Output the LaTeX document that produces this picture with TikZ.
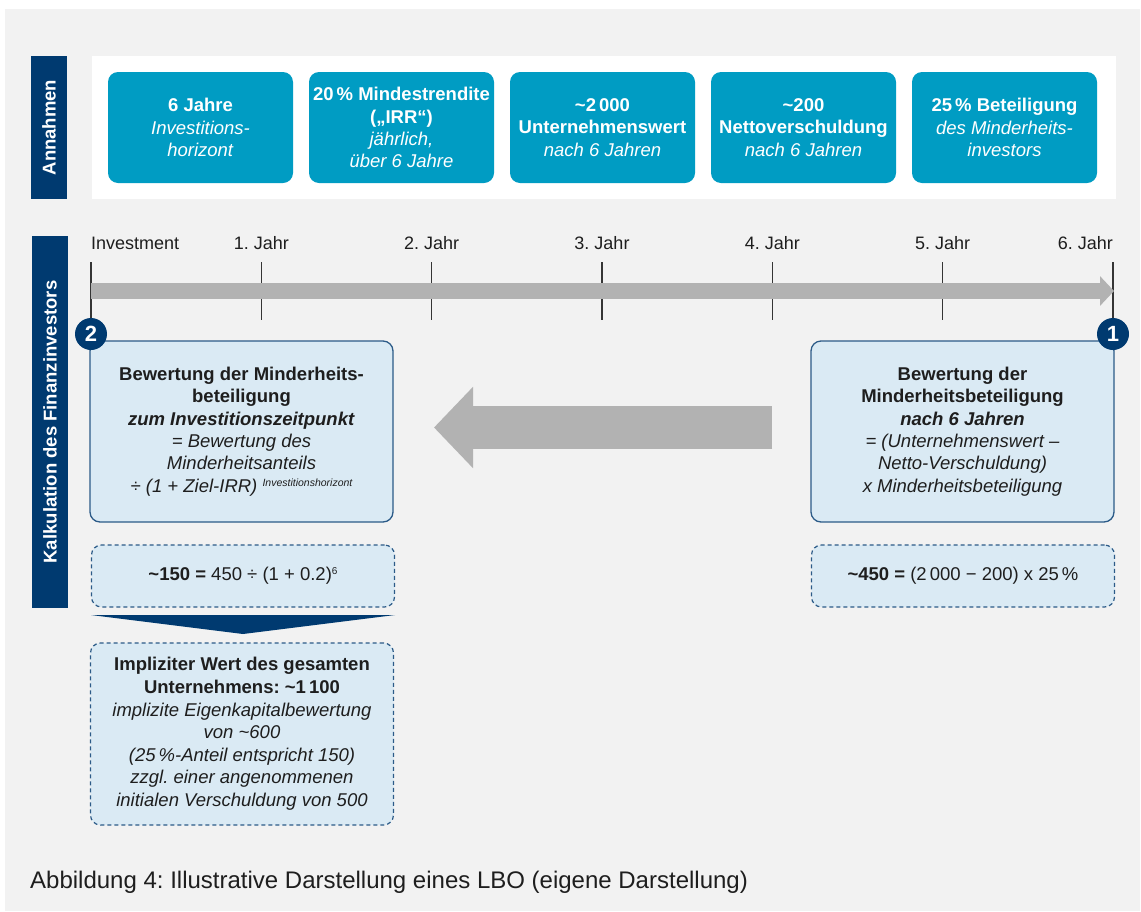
\documentclass[tikz,border=0pt]{standalone}
\usepackage{fontspec}
\setmainfont{Liberation Sans}
\usepackage{tikz}
\usetikzlibrary{arrows.meta}
\usetikzlibrary{positioning}
\definecolor{lboNavy}{HTML}{003A70}
\definecolor{lboTeal}{HTML}{009CC3}
\definecolor{lboPale}{HTML}{DAEAF4}
\definecolor{lboFrame}{HTML}{2C5B88}
\definecolor{lboGray}{HTML}{B2B2B2}
\definecolor{lboBack}{HTML}{F2F2F2}
\definecolor{lboText}{HTML}{1E1E1E}
\frenchspacing

\begin{document}
\begin{tikzpicture}[x=1pt, y=-1pt,
	every node/.style={inner sep=0pt, align=center, text=lboText},
	sidebar/.style={fill=lboNavy, rotate=90, minimum height=36pt, text=white, font=\bfseries\fontsize{18.5}{20}\selectfont},
	assumption/.style={fill=lboTeal, rounded corners=10pt, minimum width=185pt, minimum height=111pt, text=white, font=\fontsize{18.5}{22.2}\selectfont},
	valuation/.style={draw=lboFrame, line width=1.3pt, fill=lboPale, rounded corners=10pt, minimum width=303pt, minimum height=181pt, font=\fontsize{18.5}{22.4}\selectfont},
	calcbox/.style={draw=lboFrame, dash pattern=on 4pt off 3pt, line width=1.2pt, fill=lboPale, rounded corners=10pt, minimum width=303pt, font=\fontsize{18.5}{22.6}\selectfont},
	yearlabel/.style={font=\fontsize{18}{20}\selectfont},
	yearmark/.style={draw=lboText!90, line width=1.3pt},
	stepnum/.style={circle, fill=lboNavy, minimum size=32pt, text=white, font=\bfseries\fontsize{22}{22}\selectfont}]
	\useasboundingbox (0,0) rectangle (1141,911);
	\fill[white] (0,0) rectangle (1141,911);
	\fill[lboBack] (5,9) rectangle (1140,911);
	\fill[white] (92,56) rectangle (1116,199);

	\node[sidebar, minimum width=143pt] (annahmen) at (49,127.5) {Annahmen};
	\node[sidebar, minimum width=372pt] (kalkulation) at (50,422) {Kalkulation des Finanzinvestors};

	\node[assumption] (horizont) at (200.5,127.5) {\textbf{6 Jahre}\\ \textit{Investitions-}\\ \textit{horizont}};
	\node[assumption] (rendite) at (401.5,127.5) {\textbf{20\,\% Mindestrendite}\\ \textbf{(„IRR“)}\\ \textit{jährlich,}\\ \textit{über 6 Jahre}};
	\node[assumption] (uwert) at (602.5,127.5) {\textbf{\textasciitilde 2\,000}\\ \textbf{Unternehmenswert}\\ \textit{nach 6 Jahren}};
	\node[assumption] (netto) at (803.5,127.5) {\textbf{\textasciitilde 200}\\ \textbf{Nettoverschuldung}\\ \textit{nach 6 Jahren}};
	\node[assumption] (anteil) at (1004.5,127.5) {\textbf{25\,\% Beteiligung}\\ \textit{des Minderheits-}\\ \textit{investors}};

	\node[yearlabel, anchor=west] (y0) at (91,243) {Investment};
	\node[yearlabel] (y1) at (261.3,243) {1. Jahr};
	\node[yearlabel] (y2) at (431.7,243) {2. Jahr};
	\node[yearlabel] (y3) at (602,243) {3. Jahr};
	\node[yearlabel] (y4) at (772.3,243) {4. Jahr};
	\node[yearlabel] (y5) at (942.7,243) {5. Jahr};
	\node[yearlabel, anchor=east] (y6) at (1113,243) {6. Jahr};

	\node[valuation] (heute) at (241.5,431.5) {\textbf{Bewertung der Minderheits-}\\ \textbf{beteiligung}\\ \textbf{\textit{zum Investitionszeitpunkt}}\\ \textit{= Bewertung des}\\ \textit{Minderheitsanteils}\\ \textit{÷ (1 + Ziel-IRR) \raisebox{6pt}{\fontsize{10.5}{11}\selectfont Investitionshorizont}}};
	\node[valuation] (exit) at (962.5,431.5) {\textbf{Bewertung der}\\ \textbf{Minderheitsbeteiligung}\\ \textbf{\textit{nach 6 Jahren}}\\ \textit{= (Unternehmenswert –}\\ \textit{Netto-Verschuldung)}\\ \textit{x Minderheitsbeteiligung}};

	\node[stepnum] (num2) at (91,334) {2};
	\node[stepnum] (num1) at (1113,334) {1};

	\coordinate (m0) at (91,262);
	\coordinate (m1a) at (261.3,262);
	\coordinate (m1b) at (261.3,320);
	\coordinate (m2a) at (431.7,262);
	\coordinate (m2b) at (431.7,320);
	\coordinate (m3a) at (602,262);
	\coordinate (m3b) at (602,320);
	\coordinate (m4a) at (772.3,262);
	\coordinate (m4b) at (772.3,320);
	\coordinate (m5a) at (942.7,262);
	\coordinate (m5b) at (942.7,320);
	\coordinate (m6) at (1113,262);
	\draw[yearmark] (m0) -- (num2);
	\draw[yearmark] (m1a) -- (m1b);
	\draw[yearmark] (m2a) -- (m2b);
	\draw[yearmark] (m3a) -- (m3b);
	\draw[yearmark] (m4a) -- (m4b);
	\draw[yearmark] (m5a) -- (m5b);
	\draw[yearmark] (m6) -- (num1);

	\coordinate (start) at (91,291);
	\coordinate (end) at (1114,291);
	\draw[lboGray, line width=16pt, -{Triangle[length=14pt 0 0, width=29pt 0 0]}] (start) -- (end);

	\coordinate (back1) at (772,427.5);
	\coordinate (back2) at (434,427.5);
	\draw[lboGray, line width=43pt, -{Triangle[length=39pt 0 0, width=79pt 0 0]}] (back1) -- (back2);

	\node[calcbox, minimum height=62pt] (calc150) at (243,576) {\textbf{\textasciitilde 150 =} 450 ÷ (1 + 0.2)\raisebox{6pt}{\fontsize{10}{11}\selectfont 6}};
	\node[calcbox, minimum height=62pt] (calc450) at (963,576) {\textbf{\textasciitilde 450 =} (2\,000 − 200) x 25\,\%};
	\fill[lboNavy] (91,615) -- (395,615) -- (243,634) -- cycle;
	\node[calcbox, minimum height=182pt] (gesamt) at (242,734) {\textbf{Impliziter Wert des gesamten}\\ \textbf{Unternehmens: \textasciitilde 1\,100}\\ \textit{implizite Eigenkapitalbewertung}\\ \textit{von \textasciitilde 600}\\ \textit{(25\,\%-Anteil entspricht 150)}\\ \textit{zzgl. einer angenommenen}\\ \textit{initialen Verschuldung von 500}};

	\node[anchor=west, font=\fontsize{24}{26}\selectfont] (caption) at (30,882) {Abbildung 4: Illustrative Darstellung eines LBO (eigene Darstellung)};
\end{tikzpicture}
\end{document}
